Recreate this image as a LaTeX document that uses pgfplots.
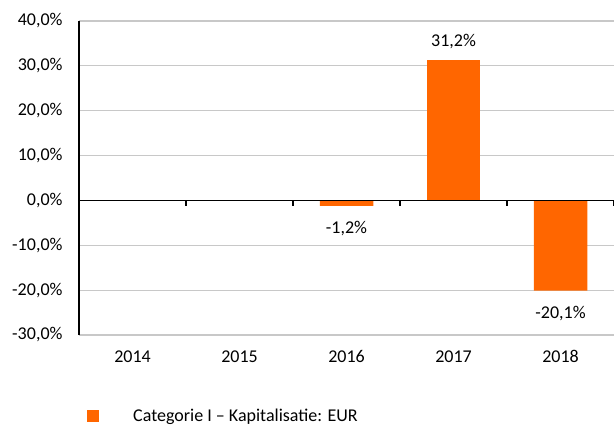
\documentclass[border=0pt]{standalone}
\usepackage{fontspec}
\setmainfont{Carlito}
\usepackage{pgfplots}
\pgfplotsset{compat=1.18}
\usetikzlibrary{calc}
\definecolor{barorange}{RGB}{255,102,0}
\definecolor{gridgray}{RGB}{200,200,200}
\begin{document}
\begin{tikzpicture}[font=\fontsize{18bp}{22bp}\selectfont]
\begin{axis}[
  name=ax, scale only axis, width=535bp, height=314bp,
  xmin=-0.5, xmax=4.5, ymin=-30, ymax=40,
  xtick={0,1,2,3,4}, xticklabels={2014,2015,2016,2017,2018},
  ytick={-30,-20,-10,0,10,20,30,40},
  yticklabels={{\mbox{-30,0\%}},{\mbox{-20,0\%}},{\mbox{-10,0\%}},{\mbox{0,0\%}},{\mbox{10,0\%}},{\mbox{20,0\%}},{\mbox{30,0\%}},{\mbox{40,0\%}}},
  major tick length=0pt,
  axis line style={draw=none},
  ymajorgrids, grid style={gridgray, line width=1.2bp},
  yticklabel style={xshift=-13bp},
  xticklabel style={yshift=-12bp},
  clip=false,
  legend style={at={(axis description cs:0.015,-0.258)}, anchor=west, draw=none, fill=none, inner sep=0pt, nodes={inner sep=0pt}},
  legend cell align=left,
]
\addplot[ybar, bar width=0.5, bar shift=0pt, fill=barorange, draw=none,
  legend image code/.code={\fill[barorange, draw=none] (0bp,-6bp) rectangle (12bp,6bp); \path[draw=none, fill=none] (0bp,0bp) -- (46bp,0bp);},
  nodes near coords, point meta=explicit symbolic,
  every node near coord/.append style={anchor=south, yshift=8bp, font=\fontsize{18bp}{22bp}\selectfont, black}]
  coordinates {(3,31.2) [31,2\%]};
\addlegendentry{Categorie I – Kapitalisatie: EUR}
\addplot[ybar, bar width=0.5, bar shift=0pt, fill=barorange, draw=none, forget plot,
  nodes near coords, point meta=explicit symbolic,
  every node near coord/.append style={anchor=north, yshift=-12bp, font=\fontsize{18bp}{22bp}\selectfont, black}]
  coordinates {(2,-1.2) [-1,2\%] (4,-20.1) [-20,1\%]};
\draw[black, line width=1.2bp] (axis cs:-0.5,-30) -- (axis cs:-0.5,40);
\draw[black, line width=1.2bp] (axis cs:-0.5,0) -- (axis cs:4.5,0);
\pgfplotsinvokeforeach{0.5,1.5,2.5,3.5,4.5}{\draw[black, line width=1.2bp] (axis cs:#1,0) -- ++(0bp,-6bp);}
\end{axis}
\pgfresetboundingbox
\path ($(ax.south west)+(-79bp,-91bp)$) rectangle ($(ax.south west)+(535bp,335bp)$);
\end{tikzpicture}
\end{document}
